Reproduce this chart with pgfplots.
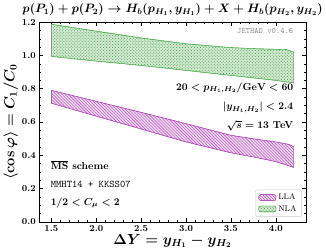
\documentclass[border=0pt]{standalone}
\usepackage{pgfplots}
\pgfplotsset{compat=1.18}
\usetikzlibrary{patterns}
\definecolor{llacol}{RGB}{175,70,185}
\definecolor{nlacol}{RGB}{80,175,80}
\begin{document}
\boldmath
\begin{tikzpicture}
\begin{axis}[
  scale only axis, width=263pt, height=197pt,
  xmin=1.365, xmax=4.335, ymin=0, ymax=1.2,
  xtick={1.5,2.0,2.5,3.0,3.5,4.0}, ytick={0,0.2,0.4,0.6,0.8,1.0,1.2},
  minor x tick num=4, minor y tick num=3,
  tick align=inside,
  major tick length=4pt, minor tick length=2pt,
  tick style={black, line width=0.5pt},
  every tick label/.append style={font=\small},
  xticklabel style={/pgf/number format/.cd, fixed, fixed zerofill, precision=1},
  yticklabel style={/pgf/number format/.cd, fixed, fixed zerofill, precision=1},
  xlabel={$\Delta Y = y_{H_1} - y_{H_2}$},
  ylabel={$\langle \cos\varphi\rangle = C_1/C_0$},
  xlabel style={font=\Large, yshift=4pt},
  ylabel style={font=\Large, yshift=-3pt},
  title={$p(P_1) + p(P_2) \to H_b(p_{H_1}, y_{H_1}) + X + H_b(p_{H_2}, y_{H_2})$},
  title style={font=\large, yshift=-3pt},
  legend style={at={(0.985,0.025)}, anchor=south east, draw=black!20, rounded corners=2pt, font=\footnotesize},
  legend cell align=left,
]
\addplot[draw=llacol, fill=llacol!20, postaction={pattern=north west lines, pattern color=llacol}, area legend, line width=0.4pt]
coordinates {(1.5,0.79) (2.0,0.724) (2.5,0.658) (3.0,0.59) (3.5,0.52) (3.8,0.495) (4.0,0.48) (4.15,0.465) (4.2,0.45)
 (4.2,0.327) (4.0,0.362) (3.8,0.385) (3.5,0.415) (3.0,0.48) (2.5,0.558) (2.0,0.635) (1.5,0.713) (1.5,0.79)};
\addlegendentry{LLA}
\addplot[draw=nlacol, fill=nlacol!25, postaction={pattern=crosshatch dots, pattern color=nlacol!85!black}, area legend, line width=0.4pt]
coordinates {(1.5,1.187) (2.0,1.146) (2.5,1.105) (3.0,1.07) (3.5,1.047) (3.8,1.04) (4.0,1.037) (4.12,1.035) (4.2,1.02)
 (4.2,0.835) (4.0,0.85) (3.5,0.88) (3.0,0.91) (2.5,0.94) (2.0,0.966) (1.5,0.994) (1.5,1.187)};
\addlegendentry{NLA}
\node[anchor=east, font=\footnotesize\ttfamily, text=black!45] at (rel axis cs:0.966,0.958) {JETHAD v0.4.6};
\node[anchor=east, font=\bfseries] at (rel axis cs:0.966,0.67) {$20 < p_{H_1,H_2}/\mathrm{GeV} < 60$};
\node[anchor=east, font=\bfseries] at (rel axis cs:0.966,0.574) {$\vert y_{H_1,H_2}\vert < 2.4$};
\node[anchor=east, font=\bfseries] at (rel axis cs:0.966,0.482) {$\sqrt{s} = 13$ TeV};
\node[anchor=west, font=\bfseries] at (rel axis cs:0.03,0.284) {$\overline{\mathrm{MS}}$ scheme};
\node[anchor=west, font=\ttfamily] at (rel axis cs:0.03,0.188) {MMHT14 + KKSS07};
\node[anchor=west, font=\bfseries] at (rel axis cs:0.03,0.096) {$1/2 < C_\mu < 2$};
\end{axis}
\end{tikzpicture}
\end{document}
